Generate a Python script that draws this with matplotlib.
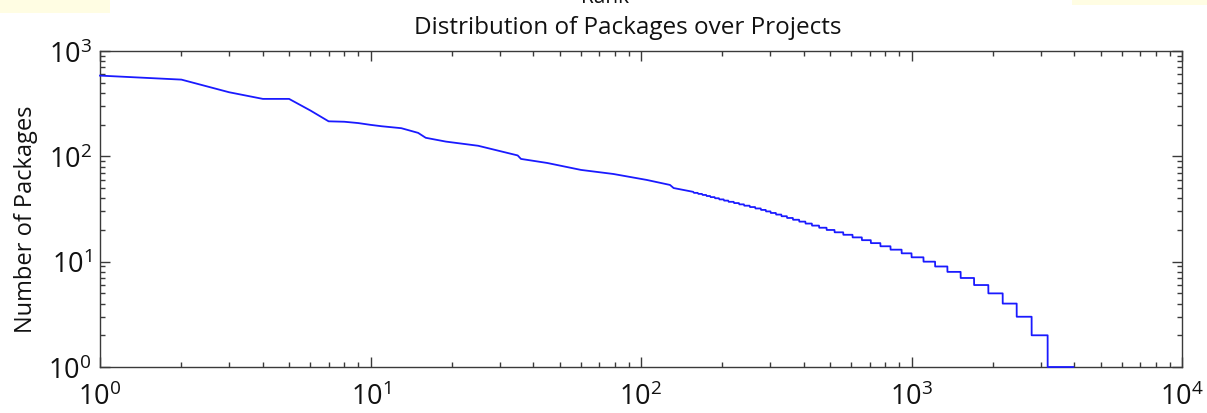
import matplotlib
matplotlib.use("Agg")
import matplotlib.pyplot as plt
from matplotlib.patches import Rectangle
from matplotlib.ticker import LogLocator, NullFormatter

# ---- data ----
# head of the rank curve (rank, number of packages)
head_ranks = [1, 2, 3, 4, 5, 6, 7, 8, 9, 10, 11, 13, 15, 16, 19, 25, 35, 36, 45, 60, 79, 105, 128, 132, 156]
head_values = [584, 535, 406, 351, 351, 272, 215, 213, 207, 199, 193, 185, 167, 150, 138, 126, 102, 94.5, 86.5, 74.3, 68, 59.7, 53.5, 50, 46]

# tail: integer package counts and the last rank holding that count
level_values = [45, 44, 43, 42, 41, 40, 39, 38, 37, 36, 35, 34, 33, 32, 31, 30, 29, 28, 27, 26,
                25, 24, 23, 22, 21, 20, 19, 18, 17, 16, 15, 14, 13, 12, 11, 10, 9, 8, 7, 6,
                5, 4, 3, 2, 1]
level_end_rank = [162, 168, 174, 180, 187, 194, 202, 210, 220, 230, 240, 252, 264, 277, 289, 301, 315, 330, 346, 364,
                  384, 405, 428, 455, 485, 519, 559, 605, 655, 707, 767, 836, 919, 1000, 1107, 1222, 1357, 1519, 1703, 1923,
                  2173, 2448, 2780, 3186, 3965]

title = "Distribution of Packages over Projects"
ylabel = "Number of Packages"

# ---- build line ----
xs = list(head_ranks)
ys = list(head_values)
prev_end = head_ranks[-1]
for v, e in zip(level_values, level_end_rank):
    xs.append(prev_end + 1)
    ys.append(v)
    xs.append(e)
    ys.append(v)
    prev_end = e

plt.rcParams['font.family'] = ['Open Sans', 'DejaVu Sans']
plt.rcParams['mathtext.fontset'] = 'custom'
plt.rcParams['mathtext.rm'] = 'Open Sans'
plt.rcParams['mathtext.it'] = 'Open Sans'

W, H = 1207, 414
fig = plt.figure(figsize=(W / 100, H / 100), dpi=100)
fig.patch.set_facecolor('white')

# yellow strips at the top corners
fig.patches.append(Rectangle((0, H - 14), 110, 14, transform=None, facecolor='#fffde3',
                             edgecolor='none', zorder=0))
fig.patches.append(Rectangle((1072, H - 6), W - 1072, 6, transform=None, facecolor='#fffde3',
                             edgecolor='none', zorder=0))

ax = fig.add_axes([100 / W, 1 - 368 / H, (1182 - 100) / W, (368 - 52) / H])
ax.plot(xs, ys, color='#1a1aff', lw=1.3, clip_on=False, zorder=5)
ax.set_xscale('log')
ax.set_yscale('log')
ax.set_xlim(1, 1e4)
ax.set_ylim(1, 1e3)

spine_c = '#3a3a3a'
for s in ax.spines.values():
    s.set_color(spine_c)
    s.set_linewidth(1.0)

ax.xaxis.set_major_locator(LogLocator(base=10, numticks=10))
ax.yaxis.set_major_locator(LogLocator(base=10, numticks=10))
ax.xaxis.set_minor_locator(LogLocator(base=10, subs=range(2, 10), numticks=20))
ax.yaxis.set_minor_locator(LogLocator(base=10, subs=range(2, 10), numticks=20))
ax.xaxis.set_minor_formatter(NullFormatter())
ax.yaxis.set_minor_formatter(NullFormatter())

ax.tick_params(which='both', direction='in', top=True, right=True, color=spine_c, width=1.0)
ax.tick_params(which='major', length=7.5, labelsize=19.5, labelcolor='#111111')
ax.tick_params(which='minor', length=3.8)
ax.tick_params(axis='x', which='major', pad=11)
ax.tick_params(axis='y', which='major', pad=6)

ax.set_ylabel(ylabel, fontsize=17, color='#111111', labelpad=8)
ax.yaxis.set_label_coords(-0.057, 0.4715)
ax.set_title(title, fontsize=17.5, color='#111111', pad=13, x=0.4875)

fig.text(605 / W, 1 - 3 / H, "Rank", ha='center', va='baseline', fontsize=15, color='#111111')

fig.savefig('out.png', dpi=100, facecolor='white')
